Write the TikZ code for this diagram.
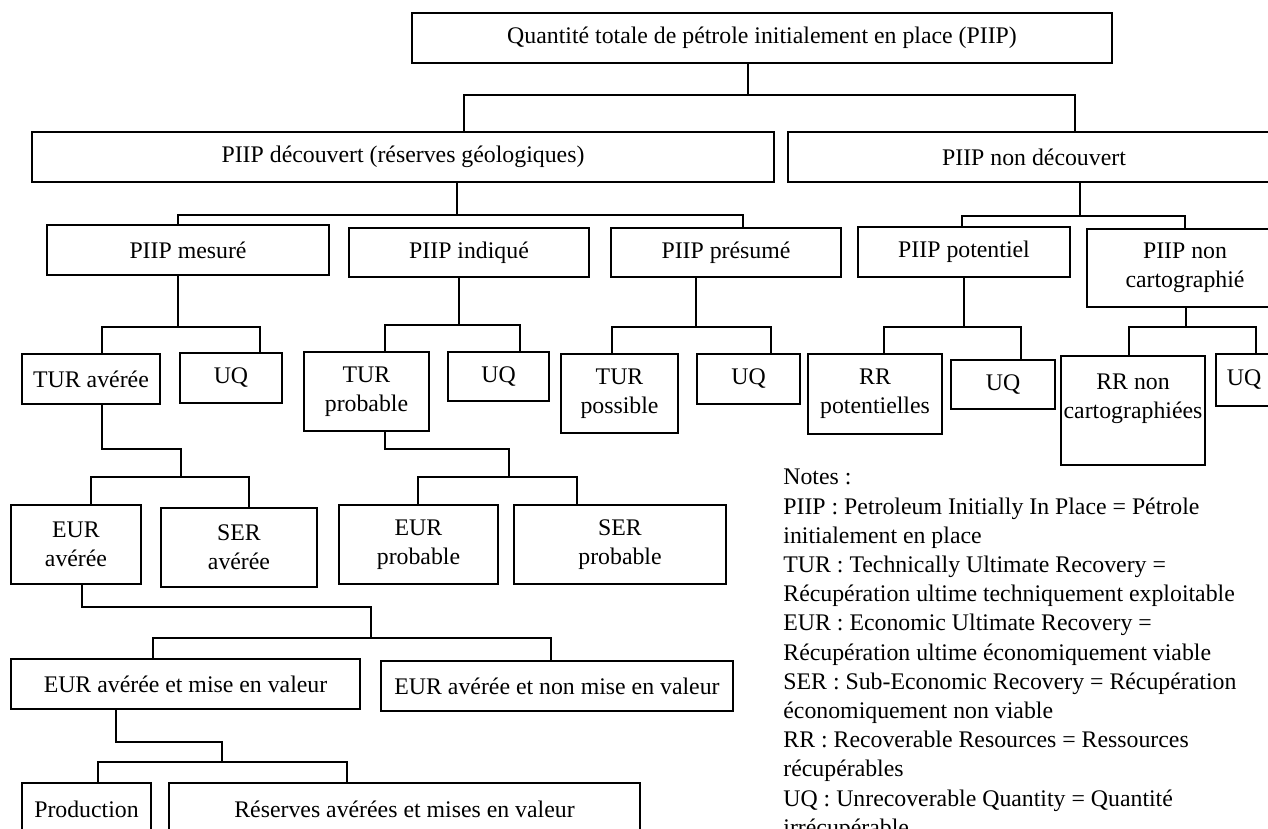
\documentclass[tikz,border=0pt]{standalone}
\usepackage{fontspec}
\setmainfont{Liberation Serif}
\usepackage{tikz}
\usetikzlibrary{positioning}

\tikzset{
  box/.style={draw, line width=0.65pt, inner sep=0pt, align=center,
    font=\fontsize{11.9}{14.6}\selectfont},
  link/.style={line width=0.65pt},
}

\begin{document}
\begin{tikzpicture}[x=0.5pt, y=-0.5pt]
  \useasboundingbox (0,0) rectangle (1268,829);
  \clip (0,0) rectangle (1268,829);

  % top levels
  \node[box, minimum width=350pt, minimum height=25pt] (piip) at (762,38) {Quantité totale de pétrole initialement en place (PIIP)};
  \node[box, minimum width=371pt, minimum height=25pt] (decouv) at (403,157) {PIIP découvert (réserves géologiques)};
  \node[box, minimum width=246pt, minimum height=25pt] (nondecouv) at (1034,157) {PIIP non découvert};

  \node[box, minimum width=141pt, minimum height=25pt] (mesure) at (188,250) {PIIP mesuré};
  \node[box, minimum width=120pt, minimum height=24.5pt] (indique) at (469,252.5) {PIIP indiqué};
  \node[box, minimum width=115pt, minimum height=24.5pt] (presume) at (726,252.5) {PIIP présumé};
  \node[box, minimum width=106pt, minimum height=25pt] (potentiel) at (964,252) {PIIP potentiel};
  \node[box, minimum width=98pt, minimum height=39pt] (noncarto) at (1185,268) {PIIP non\\cartographié};

  % TUR / RR / UQ
  \node[box, minimum width=69pt, minimum height=25pt] (tura) at (91,379) {TUR avérée};
  \node[box, minimum width=51pt, minimum height=25pt] (uqa) at (231,378) {UQ};
  \node[box, minimum width=62.5pt, minimum height=39.5pt] (turb) at (366.5,391.5) {TUR\\probable};
  \node[box, minimum width=50.5pt, minimum height=24.5pt] (uqb) at (498.5,376.5) {UQ};
  \node[box, minimum width=58.5pt, minimum height=39.5pt] (turc) at (619.5,393.5) {TUR\\possible};
  \node[box, minimum width=51.5pt, minimum height=25pt] (uqc) at (748.5,379) {UQ};
  \node[box, minimum width=67pt, minimum height=40pt] (rrpot) at (875,394) {RR\\potentielles};
  \node[box, minimum width=52pt, minimum height=24.5pt] (uqd) at (1003,384.5) {UQ};
  \node[box, minimum width=72pt, minimum height=54.5pt] (rrcarto) at (1133,410.5) {RR non\\cartographiées\\~};
  \node[box, minimum width=28pt, minimum height=26pt] (uqe) at (1244,380) {UQ};

  % EUR / SER
  \node[box, minimum width=65pt, minimum height=39.5pt] (eura) at (76,544.5) {EUR\\avérée};
  \node[box, minimum width=78pt, minimum height=39.5pt] (sera) at (239,547.5) {SER\\avérée};
  \node[box, minimum width=79.5pt, minimum height=39.5pt] (eurb) at (418.5,544.5) {EUR\\probable};
  \node[box, minimum width=106pt, minimum height=39.5pt] (serb) at (620,544.5) {SER\\probable};

  \node[box, minimum width=174.5pt, minimum height=25pt] (eurmev) at (185.5,684) {EUR avérée et mise en valeur};
  \node[box, minimum width=176pt, minimum height=25pt] (eurnmev) at (557,686) {EUR avérée et non mise en valeur};

  \node[box, minimum width=64.5pt, minimum height=26pt] (prod) at (86.5,809) {Production};
  \node[box, minimum width=235.5pt, minimum height=26pt] (resmev) at (404.5,809) {Réserves avérées et mises en valeur};

  % notes
  \node[anchor=north west, align=left, inner sep=0pt, font=\fontsize{11.9}{14.6}\selectfont] (notes) at (783,469) {Notes :\\
    PIIP : Petroleum Initially In Place = Pétrole\\
    initialement en place\\
    TUR : Technically Ultimate Recovery =\\
    Récupération ultime techniquement exploitable\\
    EUR : Economic Ultimate Recovery =\\
    Récupération ultime économiquement viable\\
    SER : Sub-Economic Recovery = Récupération\\
    économiquement non viable\\
    RR : Recoverable Resources = Ressources\\
    récupérables\\
    UQ : Unrecoverable Quantity = Quantité\\
    irrécupérable};

  % simple forks: parent/child1/child2/bus y/x parent/x child1/x child2
  \foreach \p/\a/\b/\y/\xm/\xa/\xb in {
      piip/decouv/nondecouv/95/748/464/1075,
      decouv/mesure/presume/215/457/178/743,
      nondecouv/potentiel/noncarto/216/1080/962/1185,
      mesure/tura/uqa/327/178/102/260,
      indique/turb/uqb/325/459/385/520,
      presume/turc/uqc/327/696/612/771,
      potentiel/rrpot/uqd/327/964/884/1021,
      noncarto/rrcarto/uqe/327/1186/1129/1256}
    \draw[link] (\p.south -| \xm,0) -- (\xm,\y)
      (\a.north -| \xa,0) |- (\xb,\y) -- (\b.north -| \xb,0);

  % two-step forks
  \foreach \p/\a/\b/\ya/\xp/\yb/\xm/\xa/\xb in {
      tura/eura/sera/449/102/477/181/91/249,
      turb/eurb/serb/449/385/477/509/418/577,
      eura/eurmev/eurnmev/607/82/638/371/153/551,
      eurmev/prod/resmev/742/116/762/222/98/347}
    \draw[link] (\p.south -| \xp,0) |- (\xm,\ya) -- (\xm,\yb)
      (\a.north -| \xa,0) |- (\xb,\yb) -- (\b.north -| \xb,0);
\end{tikzpicture}
\end{document}
